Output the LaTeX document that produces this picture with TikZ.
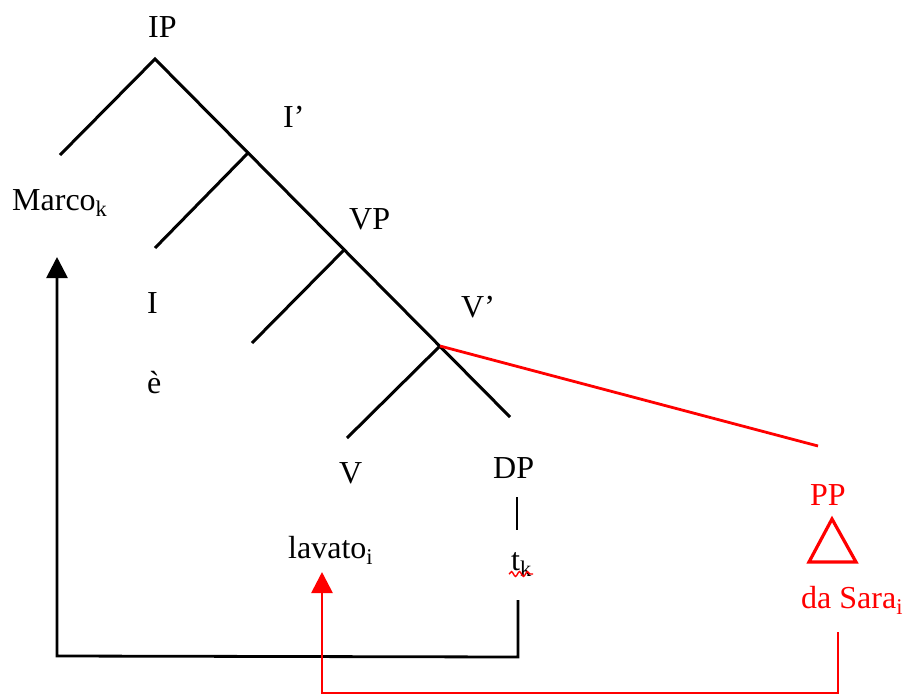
\documentclass[tikz,border=0pt]{standalone}
\usepackage{fontspec}
\setmainfont{Liberation Serif}
\usetikzlibrary{arrows.meta,decorations.pathmorphing}
\begin{document}
\begin{tikzpicture}[x=1pt,y=-1pt,
  lbl/.style={inner sep=0pt,anchor=base west,font=\fontsize{32}{38}\selectfont},
  redlbl/.style={lbl,text=red},
  branch/.style={line width=3pt},
  redline/.style={red,line width=2.8pt},
  conn/.style={line width=2.8pt,-{Triangle[width=21pt,length=21pt]}},
]
\useasboundingbox (0,0) rectangle (914,697);
% tree skeleton
\coordinate (ip) at (155,59);
\coordinate (ipl) at (60,155);
\coordinate (ib) at (248,153);
\coordinate (il) at (155,248);
\coordinate (vpb) at (344,250);
\coordinate (vpl) at (252,343);
\coordinate (vb) at (440,346);
\coordinate (vl) at (347,438);
\coordinate (dpe) at (510,417);
\coordinate (ppe) at (818,446);
\draw[branch] (ipl) -- (ip) -- (dpe);
\draw[branch] (ib) -- (il);
\draw[branch] (vpb) -- (vpl);
\draw[branch] (vb) -- (vl);
\draw[redline] (vb) -- (ppe);
% labels
\node[lbl] (IP) at (148,37) {IP};
\node[lbl] (Ibar) at (283,127) {I’};
\node[lbl] (VP) at (349,229) {VP};
\node[lbl] (Vbar) at (461,317) {V’};
\node[lbl] (Marco) at (12,210) {Marco\textsubscript{k}};
\node[lbl] (I) at (147,313) {I};
\node[lbl] (e) at (147,393) {è};
\node[lbl] (V) at (339,483) {V};
\node[lbl] (DP) at (493,478) {DP};
\node[lbl] (lavato) at (288,558) {lavato\textsubscript{i}};
\node[lbl] (tk) at (511,570) {t\textsubscript{k}};
\node[redlbl] (PP) at (810,505) {PP};
\node[redlbl] (dasara) at (801,608) {da Sara\textsubscript{i}};
% DP -- trace
\coordinate (dpl1) at (517,497);
\coordinate (dpl2) at (517,530);
\draw[line width=2.8pt] (dpl1) -- (dpl2);
% squiggle under trace
\coordinate (sq1) at (509,574);
\coordinate (sq2) at (533,574);
\draw[red,line width=1.4pt,decorate,decoration={snake,segment length=8pt,amplitude=2.4pt}] (sq1) -- (sq2);
% PP triangle
\coordinate (ta) at (832,519);
\coordinate (tl) at (809,562);
\coordinate (tr) at (856,562);
\draw[redline,line width=3.2pt,line join=miter] (ta) -- (tl) -- (tr) -- cycle;
% movement arrows
\coordinate (tkbot) at (518,600);
\coordinate (tkcorner) at (518,657);
\coordinate (mcorner) at (57,656);
\coordinate (mtip) at (57,257);
\draw[conn,line join=miter] (tkbot) -- (tkcorner) -- (mcorner) -- (mtip);
\coordinate (ppbot) at (838,632);
\coordinate (ppcorner) at (838,693);
\coordinate (lcorner) at (322,693);
\coordinate (ltip) at (322,572);
\draw[conn,red,line join=miter] (ppbot) -- (ppcorner) -- (lcorner) -- (ltip);
\end{tikzpicture}
\end{document}
